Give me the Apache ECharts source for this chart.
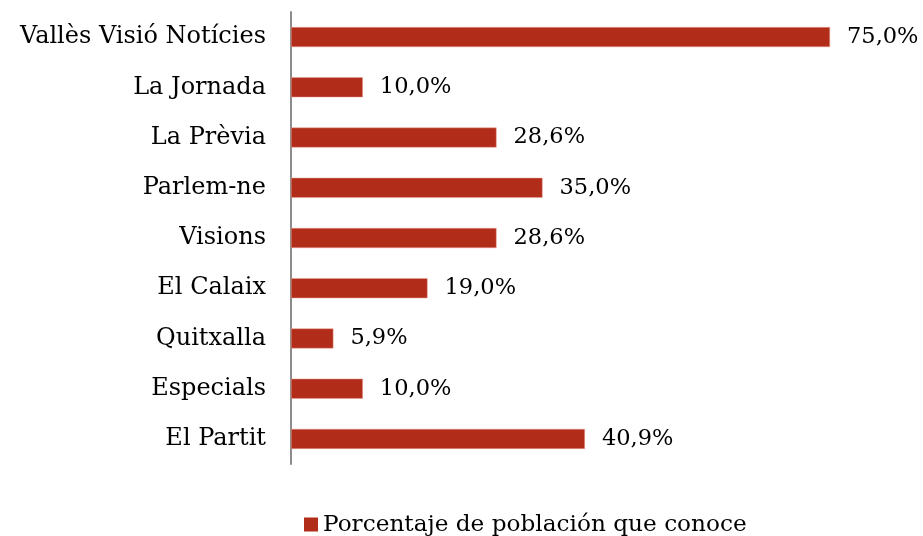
<!DOCTYPE html>
<html>
<head>
<meta charset="utf-8">
<script src="https://cdn.jsdelivr.net/npm/echarts@6/dist/echarts.min.js"></script>
<style>
  html, body { margin: 0; padding: 0; background: #fff; }
  #chart { width: 923px; height: 536px; }
</style>
</head>
<body>
<div id="chart"></div>
<script>
// mitjans i percentatge que els coneix
var categories = ['Vallès Visió Notícies', 'La Jornada', 'La Prèvia', 'Parlem-ne', 'Visions',
                  'El Calaix', 'Quitxalla', 'Especials', 'El Partit'];
var values = [75.0, 10.0, 28.6, 35.0, 28.6, 19.0, 5.9, 10.0, 40.9];
var seriesName = 'Porcentaje de población que conoce';

var font = '"DejaVu Serif", "Liberation Serif", serif';

var chart = echarts.init(document.getElementById('chart'));
chart.setOption({
    animation: false,
    textStyle: { fontFamily: font },
    grid: { left: 291, right: 93, top: 12, height: 452, containLabel: false },
    legend: {
        data: [seriesName],
        left: 299, top: 508,
        itemWidth: 14, itemHeight: 14, itemGap: 7,
        icon: 'rect',
        itemStyle: { borderWidth: 0 },
        textStyle: { fontFamily: font, fontSize: 23.2, color: '#000' }
    },
    xAxis: {
        type: 'value', min: 0, max: 75,
        show: false
    },
    yAxis: {
        type: 'category', data: categories, inverse: true,
        axisLine: { show: true, lineStyle: { color: '#8c8c8c', width: 2 } },
        axisTick: { show: false },
        axisLabel: { margin: 25, fontFamily: font, fontSize: 24, color: '#000', padding: [3, 0, 0, 0] }
    },
    series: [{
        name: seriesName,
        type: 'bar',
        data: values,
        barWidth: 20,
        itemStyle: { color: '#b22c1a', borderColor: '#e8a294', borderWidth: 0.5 },
        label: {
            show: true, position: 'right', distance: 17,
            fontFamily: font, fontSize: 22.5, color: '#000', padding: [4, 0, 0, 0],
            formatter: function (p) { return p.value.toFixed(1).replace('.', ',') + '%'; }
        }
    }]
});
</script>
</body>
</html>
